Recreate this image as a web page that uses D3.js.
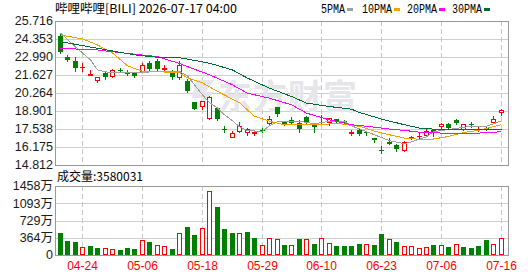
<!DOCTYPE html>
<html>
<head>
<meta charset="utf-8">
<script src="https://cdn.jsdelivr.net/npm/d3@7"></script>
<style>
body { margin: 0; background: #fff; }
svg { display: block; font-family: "Liberation Sans", Arial, sans-serif; }
</style>
</head>
<body>
<svg id="chart" width="530" height="276"></svg>
<script>
const dates = ["04-21","04-22","04-23","04-24","04-27","04-28","04-29","04-30","05-01","05-04",
  "05-05","05-06","05-07","05-08","05-11","05-12","05-13","05-14","05-15","05-18",
  "05-19","05-20","05-21","05-22","05-26","05-27","05-28","05-29","06-01","06-02",
  "06-03","06-04","06-05","06-08","06-09","06-10","06-11","06-12","06-15","06-16",
  "06-17","06-18","06-22","06-23","06-24","06-25","06-26","06-29","06-30","07-01",
  "07-02","07-06","07-07","07-08","07-09","07-10","07-13","07-14","07-15","07-16"]

const opens = [24.60,23.00,22.72,22.20,21.64,21.22,21.81,21.58,21.99,21.76,
  21.76,21.92,22.57,22.72,22.10,21.92,21.51,21.20,19.60,19.29,
  18.39,19.14,17.55,16.97,17.38,17.33,17.26,17.44,18.03,19.19,
  18.08,18.24,18.03,18.44,17.99,18.07,18.08,18.29,18.18,17.26,
  17.43,17.33,16.87,15.98,16.52,16.32,15.92,16.97,17.01,17.08,
  17.46,17.73,17.93,18.24,17.53,17.89,17.52,17.63,18.08,18.79]
const highs = [24.70,23.12,22.97,22.52,22.01,21.45,21.84,22.11,22.16,22.01,
  21.80,22.57,22.67,22.82,22.41,22.01,22.67,21.36,19.62,19.68,
  20.05,19.24,17.73,17.40,18.08,17.63,17.43,17.63,18.54,19.22,
  18.18,18.48,18.24,18.54,18.03,18.59,18.39,18.33,18.20,17.43,
  17.63,17.36,16.88,16.22,16.84,16.42,16.63,17.00,17.28,17.58,
  17.53,17.99,18.03,18.33,17.90,18.08,17.68,17.78,18.54,19.09]
const lows = [23.30,22.72,21.96,21.96,21.61,21.07,21.36,21.51,21.90,21.61,
  21.51,21.86,22.01,22.01,22.01,21.36,21.31,20.35,19.05,19.09,
  18.29,18.24,17.33,16.95,17.33,17.08,17.08,17.28,17.93,18.54,
  17.83,17.99,17.33,17.88,17.33,17.99,17.83,18.05,17.96,17.12,
  17.08,17.12,16.57,15.72,16.37,15.87,15.87,16.80,16.78,17.03,
  17.03,17.63,17.58,17.93,17.48,17.68,17.38,17.43,18.03,18.59]
const closes = [23.40,22.79,22.16,22.23,21.67,21.45,21.51,22.01,21.92,21.71,
  21.58,22.37,22.07,22.11,22.13,21.46,22.37,20.40,19.09,19.65,
  19.95,18.33,17.52,17.23,17.78,17.53,17.29,17.41,18.33,18.69,
  17.88,18.03,17.53,17.99,17.68,18.10,18.39,18.08,17.99,17.29,
  17.18,17.20,16.67,15.95,16.42,16.02,16.52,16.82,17.04,17.38,
  17.23,17.93,17.63,17.99,17.90,17.87,17.55,17.53,18.33,18.99]
// volume in 万 shares
const volumes = [471,302,281,169,190,148,141,127,106,148,
  127,317,275,204,190,127,458,592,423,563,
  1346,1014,549,472,465,486,366,204,359,338,
  211,204,338,331,232,352,254,190,190,190,
  232,232,211,444,331,275,183,183,141,162,
  211,204,169,225,169,148,190,317,232,358]
const lastVolume = 3580031

// moving averages: [day index, value]
const ma5 = [[0,24.81],[2,23.75],[4,22.77],[5,22.01],[6,21.86],[8,21.79],[11,21.82],[13,21.90],
  [16,21.90],[17,21.56],[18,20.88],[19,20.12],[20,19.52],[21,19.14],[22,18.61],[23,18.16],
  [24,17.70],[25,17.40],[27,17.37],[28,17.78],[29,18.08],[32,18.12],[34,17.93],[36,18.12],
  [38,18.12],[39,17.78],[42,17.10],[44,16.65],[46,16.42],[47,16.57],[49,16.95],[50,17.33],
  [53,17.59],[55,17.74],[57,17.74],[59,18.16]]
const ma10 = [[0,24.66],[3,24.36],[5,23.90],[7,23.30],[9,22.32],[11,21.90],[13,21.88],[16,21.79],
  [17,21.41],[19,21.03],[21,20.39],[24,19.52],[26,18.50],[28,18.12],[30,17.86],[32,17.86],
  [35,17.86],[37,17.97],[40,17.74],[42,17.37],[44,17.10],[46,16.85],[49,16.72],[50,16.78],
  [52,16.97],[54,17.27],[56,17.44],[59,17.86]]
const ma20 = [[0,23.65],[5,23.52],[10,23.20],[13,23.02],[15,22.66],[16,22.50],[17,22.26],[20,21.64],
  [23,20.88],[25,20.25],[28,19.87],[31,19.37],[33,18.74],[36,18.23],[39,17.86],[42,17.68],
  [44,17.53],[46,17.43],[48,17.30],[51,17.23],[56,17.23],[59,17.33]]
const ma30 = [[0,24.15],[5,23.65],[10,23.15],[13,22.97],[16,22.94],[20,22.52],[23,22.01],[25,21.39],
  [28,20.63],[31,20.00],[33,19.50],[36,19.24],[39,19.04],[40,18.79],[43,18.29],[46,17.86],
  [48,17.61],[51,17.48],[59,17.48]]

const priceTicks = [14.812,16.175,17.538,18.901,20.264,21.627,22.990,24.353,25.716]
const volTicks = [0,364,729,1093,1458]
const volTickLabels = ["0","364万","729万","1093万","1458万"]
const xTickDates = ["04-24","05-06","05-18","05-29","06-10","06-23","07-06","07-16"]

const maSeries = [
  {name: "5PMA", pts: ma5, color: "#a0a0a0"},
  {name: "10PMA", pts: ma10, color: "#f5a200"},
  {name: "20PMA", pts: ma20, color: "#ff00ff"},
  {name: "30PMA", pts: ma30, color: "#006b36"},
]

const RED = "#ff0000", GREEN = "#008000"
const plotL = 56, plotR = 509

const svg = d3.select("#chart")

const x = d3.scaleBand().domain(dates).range([56, 504.5]).paddingInner(0.3).paddingOuter(0.15)
const cx = d => Math.round(x(d) + x.bandwidth() / 2)
const y = d3.scaleLinear().domain([14.812, 25.716]).range([165, 21])
const yv = d3.scaleLinear().domain([0, 1458]).range([255, 186])
const crisp = v => Math.round(v) + 0.5

// ---- title + legend
svg.append("text").attr("x", 55).attr("y", 12.5)
  .attr("font-family", "'Noto Sans CJK SC', sans-serif").attr("font-size", 12)
  .attr("textLength", 182).attr("lengthAdjust", "spacingAndGlyphs")
  .text("哔哩哔哩[BILI] 2026-07-17 04:00")

const legendX = [321, 362, 407, 452]
const legend = svg.append("g")
maSeries.forEach((s, i) => {
  const w = s.name.length * 6
  legend.append("text").attr("x", legendX[i]).attr("y", 12.5)
    .attr("font-family", "'Liberation Mono', monospace").attr("font-size", 12)
    .attr("textLength", w).attr("lengthAdjust", "spacingAndGlyphs").text(s.name)
  legend.append("rect").attr("x", legendX[i] + w + 2).attr("y", 8)
    .attr("width", 6).attr("height", 3).attr("fill", s.color)
})

// ---- grids
const grid = svg.append("g").attr("shape-rendering", "crispEdges")
grid.selectAll(".hg").data(priceTicks).join("line")
  .attr("x1", plotL).attr("x2", plotR)
  .attr("y1", d => crisp(y(d))).attr("y2", d => crisp(y(d)))
  .attr("stroke", "#cfcfcf")
grid.selectAll(".vg").data(volTicks).join("line")
  .attr("x1", plotL).attr("x2", plotR)
  .attr("y1", d => crisp(yv(d))).attr("y2", d => crisp(yv(d)))
  .attr("stroke", "#cfcfcf")

xTickDates.forEach(d => {
  [[21, 165], [186, 255]].forEach(r => {
    grid.append("line").attr("x1", cx(d) + 0.5).attr("x2", cx(d) + 0.5)
      .attr("y1", r[0]).attr("y2", r[1])
      .attr("stroke", "#c8c8c8").attr("stroke-dasharray", "5,3")
  })
})

// frames
const frame = svg.append("g").attr("fill", "none").attr("stroke", "#999").attr("shape-rendering", "crispEdges")
frame.append("rect").attr("x", plotL - 0.5).attr("y", 21.5).attr("width", plotR - plotL).attr("height", 144)
frame.append("rect").attr("x", plotL - 0.5).attr("y", 186.5).attr("width", plotR - plotL).attr("height", 69)

// ---- watermark
const wm = svg.append("g").attr("fill", "#e6e6ea")
wm.append("path")
  .attr("d", "M196,80 L214,80 L206,92 L214,92 L196,112 L202,98 L192,98 Z")
wm.append("text").attr("x", 218).attr("y", 109)
  .attr("font-family", "'Noto Sans CJK SC', sans-serif").attr("font-weight", 700)
  .attr("font-size", 34).attr("letter-spacing", 1).text("东方财富")

// ---- y axis labels
svg.append("g").selectAll("text").data(priceTicks).join("text")
  .attr("x", 53).attr("y", d => y(d)).attr("dy", "0.35em")
  .attr("text-anchor", "end").attr("font-size", 12.5).attr("fill", "#1a1a1a")
  .text(d => d.toFixed(3))

svg.append("g").selectAll("text").data(volTicks).join("text")
  .attr("x", 53).attr("y", d => yv(d)).attr("dy", "0.35em")
  .attr("text-anchor", "end").attr("font-size", 12.5).attr("fill", "#1a1a1a")
  .attr("font-family", "'Liberation Sans', 'Noto Sans CJK SC', sans-serif")
  .text((d, i) => volTickLabels[i])

// x labels
svg.append("g").selectAll("text").data(xTickDates).join("text")
  .attr("x", d => cx(d) + 0.5).attr("y", 270)
  .attr("text-anchor", "middle").attr("font-size", 12).attr("fill", RED)
  .text(d => d)

// volume caption
svg.append("text").attr("x", 57).attr("y", 181)
  .attr("font-family", "'Noto Sans CJK SC', sans-serif").attr("font-size", 12)
  .text("成交量:" + lastVolume)

// ---- candles
const candles = dates.map((d, i) => ({d, o: opens[i], h: highs[i], l: lows[i], c: closes[i], v: volumes[i],
  up: closes[i] >= opens[i],
  volUp: i === 0 ? closes[i] >= opens[i] : closes[i] >= closes[i - 1]}))

const cg = svg.append("g").attr("shape-rendering", "crispEdges")
cg.selectAll(".wick").data(candles).join("line")
  .attr("x1", d => cx(d.d) + 0.5).attr("x2", d => cx(d.d) + 0.5)
  .attr("y1", d => Math.round(y(d.h))).attr("y2", d => Math.round(y(d.l)) + 1)
  .attr("stroke", d => d.up ? RED : GREEN)

cg.selectAll(".body").data(candles).join("rect")
  .attr("x", d => d.up ? cx(d.d) - 2 + 0.5 : cx(d.d) - 2)
  .attr("y", d => {
    const t = Math.round(y(Math.max(d.o, d.c)))
    return d.up ? t + 0.5 : t
  })
  .attr("width", d => d.up ? 4 : 5)
  .attr("height", d => {
    const h = Math.round(y(Math.min(d.o, d.c))) - Math.round(y(Math.max(d.o, d.c)))
    return d.up ? Math.max(h, 0.01) : Math.max(h, 1)
  })
  .attr("fill", d => d.up ? "#fff" : GREEN)
  .attr("stroke", d => d.up ? RED : "none")

// ---- moving averages
const line = d3.line().x(p => cx(dates[p[0]]) + 0.5).y(p => y(p[1]))
svg.append("g").selectAll("path").data(maSeries).join("path")
  .attr("d", s => line(s.pts)).attr("fill", "none")
  .attr("stroke", s => s.color).attr("stroke-width", 1)
  .attr("shape-rendering", "crispEdges")

// ---- volume bars
const vg = svg.append("g").attr("shape-rendering", "crispEdges")
vg.selectAll("rect").data(candles).join("rect")
  .attr("x", d => d.volUp ? cx(d.d) - 2 + 0.5 : cx(d.d) - 2)
  .attr("y", d => d.volUp ? Math.round(yv(d.v)) + 0.5 : Math.round(yv(d.v)))
  .attr("width", d => d.volUp ? 4 : 5)
  .attr("height", d => d.volUp ? 255 - Math.round(yv(d.v)) - 1 : 255 - Math.round(yv(d.v)))
  .attr("fill", d => d.volUp ? "#fff" : GREEN)
  .attr("stroke", d => d.volUp ? RED : "none")
</script>
</body>
</html>
